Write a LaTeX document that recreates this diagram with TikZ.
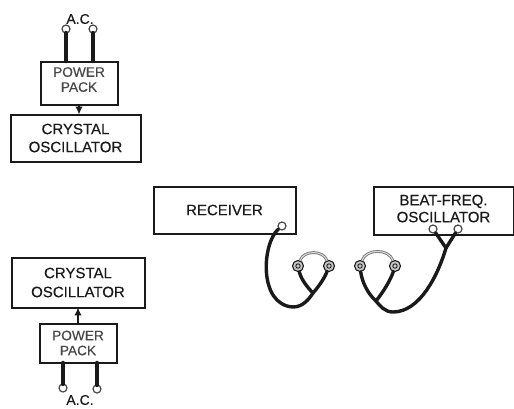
\documentclass[tikz,border=0pt]{standalone}
\usepackage{fontspec}
\setmainfont[FakeBold=0.4]{Liberation Sans}
\usetikzlibrary{arrows.meta,positioning}
\definecolor{Ink}{HTML}{1A1A1A}
\definecolor{Gray}{HTML}{777777}
\begin{document}
\begin{tikzpicture}[x=1pt,y=-1pt,
    p/.style={draw=Ink,line width=2pt,inner sep=0pt,outer sep=0pt,align=center,font=\fontsize{15}{19}\selectfont,text=Ink},
    pk/.style={p,font=\fontsize{13.7}{15}\selectfont,text=Ink!80},
    t/.style={draw=Ink!80,fill=white,circle,line width=1.2pt,inner sep=0pt,minimum size=8pt},
    e/.style={draw=Ink,fill=Gray!40,circle,line width=1.1pt,inner sep=0pt,minimum size=11pt,path picture={\draw[Ink,line width=.9pt] (path picture bounding box.center) circle (2.2pt);}},
    w/.style={draw=Ink,line width=3.4pt,line cap=round},
    band/.style={draw=Gray,line width=.9pt,double=Gray!25,double distance=1pt},
    a/.style={-{Latex[length=2.8mm,width=2.6mm]},line width=1.2pt,draw=Ink},
    lbl/.style={font=\fontsize{14}{15}\selectfont,text=Ink,inner sep=0pt},node distance=10pt
  ]
    \useasboundingbox (0,0) rectangle (514,408);
    % upper stack
    \node[pk,minimum width=77pt,minimum height=43pt] (packA) at (79,83) {POWER\\PACK\\[-8pt]};
    \node[p,font=\fontsize{15}{18}\selectfont,minimum width=130pt,minimum height=47pt,below=10pt of packA,xshift=-3.5pt] (xtalA) {CRYSTAL\\OSCILLATOR};
    \node[lbl] (acTop) at (80,19) {A.C.};
    \node[t] (acA) at (66,29) {};
    \node[t] (acB) at (93,29) {};
    \draw[w,shorten <=-1pt] (acA) -- (acA |- packA.north);
    \draw[w,shorten <=-1pt] (acB) -- (acB |- packA.north);
    \draw[a] (packA.south) -- (packA.south |- xtalA.north);
    % lower stack
    \node[p,minimum width=133pt,minimum height=50pt] (xtalB) at (78,282.5) {CRYSTAL\\OSCILLATOR};
    \node[pk,minimum width=77pt,minimum height=39pt,below=16pt of xtalB] (packB) {POWER\\PACK};
    \node[lbl] (acBot) at (80,400) {A.C.};
    \node[t] (acC) at (63,388) {};
    \node[t] (acD) at (97,389) {};
    \draw[w,shorten <=-1pt] (acC) -- (acC |- packB.south);
    \draw[w,shorten <=-1pt] (acD) -- (acD |- packB.south);
    \draw[a] (packB) -- (xtalB);
    % receiver and phones
    \node[p,minimum width=142pt,minimum height=47pt] (rcv) at (224.5,210) {RECEIVER};
    \coordinate (joinA) at (313,293);
    \node[t] (rcvT) at (282,226) {};
    \draw[w] (rcvT) .. controls (262,243) and (258,305) .. (293,307) .. controls (303,307) and (309,299) .. (joinA);
    \node[e] (phA) at (298,266) {};
    \node[e] (phB) at (329,266) {};
    \draw[band] (phA) to[out=70,in=110,looseness=1.05] (phB);
    \draw[w] (phA) .. controls (301,279) and (307,287) .. (joinA);
    \draw[w] (phB) .. controls (325,277) and (320,285) .. (joinA);
    % oscillator and phones
    \node[p,font=\fontsize{15}{17}\selectfont,minimum width=140pt,minimum height=48pt] (bfo) at (443.5,210.5) {BEAT-FREQ.\\OSCILLATOR\\[-13pt]};
    \coordinate (joinB) at (446,248);
    \coordinate (joinC) at (376,301);
    \node[t] (bfoA) at (433,229) {};
    \node[t] (bfoB) at (458,229) {};
    \draw[w] (bfoA) -- (joinB);
    \draw[w] (bfoB) -- (joinB);
    \node[e] (phC) at (360,266) {};
    \node[e] (phD) at (395,266) {};
    \draw[band] (phC) to[out=70,in=110,looseness=1.05] (phD);
    \draw[w] (joinB) .. controls (438,275) and (420,312) .. (393,312) .. controls (385,312) and (380,306) .. (joinC);
    \draw[w] (phC) .. controls (362,282) and (368,294) .. (joinC);
    \draw[w] (phD) .. controls (391,279) and (384,291) .. (joinC);
  \end{tikzpicture}
\end{document}
